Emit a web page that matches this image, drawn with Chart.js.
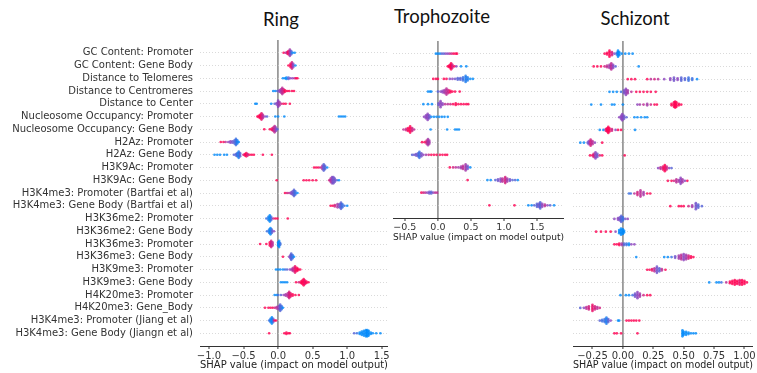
<!DOCTYPE html>
<html>
<head>
<meta charset="utf-8">
<script src="https://cdn.jsdelivr.net/npm/chart.js@4.4.1/dist/chart.umd.min.js"></script>
<style>
    body { margin: 0; background: #fff; width: 757px; height: 373px; overflow: hidden; position: relative; }
    canvas { position: absolute; }
    .title { position: absolute; font-family: Lato, "Open Sans", sans-serif; font-size: 18.5px; color: #111; transform: translateX(-50%); white-space: nowrap; }
</style>
</head>
<body>
<div class="title" style="left:281px; top:8px;">Ring</div>
<div class="title" style="left:442px; top:5px;">Trophozoite</div>
<div class="title" style="left:635px; top:7px;">Schizont</div>
<canvas id="ringChart" width="392" height="373" style="left:0; top:0;"></canvas>
<canvas id="trophChart" width="180" height="245" style="left:388px; top:0;"></canvas>
<canvas id="schizChart" width="192" height="373" style="left:565px; top:0;"></canvas>
<script>
// feature names (Ring panel y labels)
const features = [
    "GC Content: Promoter", "GC Content: Gene Body", "Distance to Telomeres",
    "Distance to Centromeres", "Distance to Center", "Nucleosome Occupancy: Promoter",
    "Nucleosome Occupancy: Gene Body", "H2Az: Promoter", "H2Az: Gene Body",
    "H3K9Ac: Promoter", "H3K9Ac: Gene Body", "H3K4me3: Promoter (Bartfai et al)",
    "H3K4me3: Gene Body (Bartfai et al)", "H3K36me2: Promoter", "H3K36me2: Gene Body",
    "H3K36me3: Promoter", "H3K36me3: Gene Body", "H3K9me3: Promoter", "H3K9me3: Gene Body",
    "H4K20me3: Promoter", "H4K20me3: Gene_Body", "H3K4me3: Promoter (Jiang et al)",
    "H3K4me3: Gene Body (Jiangn et al)"
];

const ringTicks = [-1.0, -0.5, 0.0, 0.5, 1.0, 1.5];
const trophTicks = [-0.5, 0.0, 0.5, 1.0, 1.5];
const schizTicks = [-0.25, 0.0, 0.25, 0.5, 0.75, 1.0];

// each row: [shap value, dots stacked at that value, feature value 0 (low, blue) .. 1 (high, red)]
const ringRows = [
    [[0.08,1,1],[0.11,1,0.7],[0.13,2,0.8],[0.15,3,1],[0.17,5,0.6],[0.19,3,0.3],[0.21,1,0],[0.24,1,0]],
    [[0.15,1,1],[0.18,3,1],[0.2,5,0.8],[0.22,3,0.5],[0.25,1,0]],
    [[0.07,1,0],[0.1,1,0],[0.12,2,0],[0.15,2,0.3],[0.18,1,0.5],[0.21,1,0.5],[0.24,1,0.7],[0.26,1,1],[0.28,1,1]],
    [[-0.07,1,0],[-0.04,1,0],[-0.01,1,0.3],[0.02,2,0.5],[0.04,3,0.6],[0.06,5,0.7],[0.08,3,0.8],[0.1,2,1],[0.13,1,1],[0.16,1,1],[0.2,1,1],[0.23,1,1]],
    [[-0.33,1,0],[-0.31,1,0],[-0.1,1,0],[-0.05,1,0.3],[-0.02,2,0.5],[0,5,0.5],[0.02,3,0.6],[0.05,1,0.8],[0.08,1,1],[0.11,1,1],[0.17,1,1]],
    [[-0.3,1,1],[-0.28,2,1],[-0.26,3,1],[-0.24,5,0.9],[-0.22,3,0.7],[-0.19,1,0.5],[-0.16,1,0.3],[-0.04,1,0],[0,1,0],[0.09,1,0],[0.88,1,0],[0.91,1,0],[0.94,1,0],[0.97,1,0]],
    [[-0.2,1,1],[-0.12,1,1],[-0.09,2,1],[-0.07,3,0.8],[-0.05,5,0.7],[-0.03,3,0.5],[-0.01,1,0.3]],
    [[-0.83,1,1],[-0.79,1,1],[-0.76,1,0.7],[-0.72,1,0.5],[-0.69,2,0.5],[-0.66,2,0.4],[-0.63,3,0.3],[-0.61,5,0.2],[-0.59,3,0.1],[-0.57,1,0]],
    [[-0.92,1,0],[-0.88,1,0],[-0.84,1,0],[-0.78,1,0],[-0.74,1,0],[-0.64,1,0.3],[-0.61,2,0.3],[-0.59,3,0.2],[-0.57,5,0.1],[-0.55,3,0.3],[-0.5,1,0.8],[-0.48,2,1],[-0.46,3,1],[-0.44,2,0.8],[-0.41,1,1],[-0.38,1,1],[-0.35,1,1],[-0.22,1,1],[-0.09,1,1]],
    [[0.52,1,1],[0.55,1,1],[0.58,1,1],[0.61,1,0.8],[0.64,3,0.6],[0.66,5,0.3],[0.68,3,0.3],[0.71,1,0]],
    [[-0.02,1,1],[0.37,1,1],[0.41,1,1],[0.45,1,1],[0.5,1,1],[0.55,1,1],[0.74,1,0.8],[0.76,3,0.7],[0.78,5,0.5],[0.8,5,0.4],[0.82,3,0.4],[0.85,1,0.3],[0.88,1,0]],
    [[0.1,1,1],[0.13,1,0.8],[0.16,1,0.7],[0.19,2,0.5],[0.21,3,0.4],[0.23,5,0.3],[0.25,3,0.2],[0.28,1,0]],
    [[0.76,1,1],[0.79,1,1],[0.82,2,0.8],[0.86,3,0.6],[0.89,3,0.4],[0.91,5,0.3],[0.93,3,0.2],[0.96,1,0.2],[1.0,1,0]],
    [[-0.17,1,0.2],[-0.14,3,0.1],[-0.12,5,0],[-0.1,3,0.2],[-0.07,1,0.7],[-0.04,1,1],[-0.01,1,1],[0.14,1,1]],
    [[-0.16,1,0.2],[-0.13,3,0.1],[-0.11,5,0],[-0.09,3,0.3],[-0.06,1,0.5]],
    [[-0.26,1,1],[-0.17,1,1],[-0.12,3,1],[-0.1,5,0.8],[-0.08,3,0.7],[0,3,0],[0.015,5,0],[0.03,2,0.2]],
    [[0.07,1,1],[0.16,1,0.5],[0.18,3,0.4],[0.19,5,0.3],[0.21,3,0.2],[0.23,1,0]],
    [[-0.03,1,0],[0,1,0],[0.03,1,0],[0.07,1,0],[0.1,1,0.2],[0.13,1,0.3],[0.17,1,0.5],[0.2,2,0.6],[0.22,3,0.7],[0.245,5,0.9],[0.27,3,1],[0.29,2,1],[0.32,1,1]],
    [[0.04,1,0],[0.07,1,0],[0.1,1,0],[0.13,1,0],[0.26,1,1],[0.3,1,0.8],[0.33,2,1],[0.35,3,1],[0.37,5,1],[0.39,3,0.9],[0.41,2,1],[0.44,1,1]],
    [[-0.05,1,0],[-0.02,1,0],[0,1,0.2],[0.04,1,0.3],[0.08,1,0.5],[0.11,2,0.6],[0.14,3,0.7],[0.16,5,0.8],[0.18,3,0.9],[0.21,2,1],[0.25,1,1],[0.3,1,1]],
    [[-0.19,1,1],[-0.14,1,1],[-0.11,1,1],[-0.08,1,1],[-0.05,1,0.8],[-0.02,2,0.7],[0.01,3,0.5],[0.03,5,0.3],[0.05,3,0.2],[0.07,1,0]],
    [[-0.13,1,0.2],[-0.11,3,0.1],[-0.09,5,0],[-0.07,3,0.3],[-0.05,1,1],[-0.03,1,1]],
    [[-0.13,1,1],[0.09,1,1],[0.12,2,1],[0.15,1,1],[0.17,1,1],[1.1,1,0.3],[1.14,1,0.2],[1.18,2,0],[1.21,3,0],[1.24,4,0],[1.27,5,0],[1.29,5,0],[1.31,4,0],[1.34,2,0],[1.37,1,0],[1.42,1,0],[1.48,1,0]]
];

const trophRows = [
    [[-0.03,1,0],[0,1,0],[0.03,1,0],[0.06,1,0.3],[0.09,1,0.3],[0.12,1,0.5],[0.15,1,0.5],[0.18,1,0.7],[0.21,1,0.8],[0.24,1,1],[0.27,1,1],[0.29,1,1]],
    [[0.15,1,1],[0.17,2,1],[0.19,3,1],[0.2,5,1],[0.22,3,0.8],[0.25,1,1],[0.28,1,0.5],[0.35,1,0],[0.43,1,0]],
    [[-0.07,1,1],[-0.03,1,1],[0.0,1,1],[0.09,1,1],[0.13,1,1],[0.18,1,0.5],[0.22,1,0.5],[0.26,1,0.4],[0.3,2,0.3],[0.34,2,0.3],[0.38,3,0.2],[0.42,5,0.1],[0.45,3,0.1],[0.49,1,0],[0.53,1,0]],
    [[-0.15,1,0],[-0.12,1,0],[-0.1,1,0],[0.0,1,0.3],[0.04,1,0.5],[0.07,2,0.5],[0.1,3,0.6],[0.13,5,0.7],[0.16,3,0.8],[0.19,2,1],[0.22,1,1],[0.26,1,1],[0.33,1,1]],
    [[-0.22,1,0],[-0.15,1,0],[-0.09,1,0],[0.01,2,0.4],[0.04,5,0.5],[0.07,2,0.5],[0.11,1,0.7],[0.15,1,0.7],[0.19,1,0.8],[0.23,1,1],[0.27,2,1],[0.31,1,1],[0.35,1,1],[0.39,1,1],[0.43,1,1],[0.46,1,1]],
    [[-0.21,1,0.5],[-0.18,3,0.5],[-0.155,5,0.5],[-0.13,3,0.4],[-0.1,1,0],[-0.06,1,0],[-0.02,1,0],[0.02,1,0],[0.06,1,0],[0.1,1,0],[0.15,1,0]],
    [[-0.52,1,0.7],[-0.48,2,0.8],[-0.45,3,1],[-0.42,5,1],[-0.39,3,0.8],[-0.36,1,0.7],[-0.11,1,0],[0.14,1,0],[0.26,1,0],[0.29,1,0],[0.32,1,0]],
    [[-0.24,1,1],[-0.2,1,1],[-0.17,3,0.8],[-0.15,5,0.6],[-0.13,3,0.6]],
    [[-0.39,1,0.3],[-0.36,1,0.4],[-0.33,2,0.4],[-0.3,3,0.3],[-0.28,5,0.2],[-0.25,3,0.4],[-0.22,1,0.5],[-0.18,1,0.6],[-0.14,1,0.8],[-0.1,1,1],[-0.06,1,1],[-0.02,1,1],[0.03,1,1],[0.07,1,1],[0.11,1,1],[0.14,1,1]],
    [[0.18,1,1],[0.23,1,0.8],[0.27,1,0.7],[0.31,1,0.6],[0.35,2,0.6],[0.38,3,0.7],[0.42,5,0.6],[0.45,3,0.4],[0.49,1,0]],
    [[0.45,1,1],[0.75,1,0],[0.8,1,0],[0.87,1,0.3],[0.91,2,0.4],[0.95,3,0.5],[0.98,3,0.7],[1.02,5,0.8],[1.05,3,0.6],[1.09,2,0.4],[1.13,1,0.3],[1.17,1,0.3],[1.21,1,0]],
    [[-0.25,1,1],[-0.22,1,0.8],[-0.19,1,0.7],[-0.16,1,0.5],[-0.13,2,0.4],[-0.1,2,0.3],[-0.07,1,0.5],[-0.04,1,0.7],[-0.01,1,0.7]],
    [[0.78,1,1],[1.16,1,1],[1.37,1,0],[1.42,1,0],[1.46,1,0.3],[1.5,3,0.3],[1.53,3,0.4],[1.55,5,0.3],[1.58,3,0.5],[1.62,2,0.7],[1.66,1,0.5],[1.7,1,0.3],[1.76,1,0]]
];

const schizRows = [
    [[-0.15,1,1],[-0.13,2,1],[-0.11,5,1],[-0.09,3,0.8],[-0.07,1,0.5],[-0.05,2,0.2],[-0.04,5,0],[-0.03,3,0],[-0.01,1,0],[0.02,1,0],[0.05,1,0],[0.08,1,0]],
    [[-0.24,1,1],[-0.21,1,1],[-0.18,1,1],[-0.15,1,0.8],[-0.13,2,0.7],[-0.11,3,0.6],[-0.095,5,0.7],[-0.08,3,0.5],[-0.06,1,0.3],[0.13,1,0]],
    [[0.04,1,1],[0.07,1,1],[0.1,1,1],[0.2,1,1],[0.23,1,0.7],[0.26,1,0.8],[0.29,1,0.7],[0.34,1,0.5],[0.39,2,0.5],[0.42,3,0.4],[0.45,2,0.5],[0.48,3,0.3],[0.51,2,0.3],[0.54,3,0.2],[0.57,2,0.2],[0.61,1,0]],
    [[-0.11,1,0],[-0.08,1,0],[-0.05,1,0],[-0.015,1,0.2],[0.01,3,0.4],[0.025,5,0.5],[0.04,3,0.6],[0.07,1,0.7],[0.11,1,1],[0.14,1,1],[0.17,1,1],[0.2,1,1],[0.23,1,1],[0.27,1,1]],
    [[-0.26,1,0],[-0.18,1,0],[-0.09,1,0],[-0.07,1,0],[0,1,0],[0.12,1,0.5],[0.14,1,0.6],[0.17,1,0.7],[0.2,2,0.6],[0.23,1,0.8],[0.26,1,1],[0.28,1,1],[0.4,2,1],[0.42,4,1],[0.43,5,1],[0.44,4,1],[0.46,2,1],[0.48,1,1]],
    [[-0.03,1,0.5],[-0.015,3,0.5],[-0.005,5,0.5],[0.01,3,0.4],[0.03,1,0.3],[0.095,1,0],[0.12,1,0],[0.15,1,0],[0.18,1,0],[0.2,1,0]],
    [[-0.19,1,0],[-0.16,1,0],[-0.14,2,0.8],[-0.13,3,1],[-0.12,5,1],[-0.11,3,1],[-0.09,2,0.8],[-0.06,1,0.5],[-0.04,1,1],[-0.015,1,1],[0.1,1,0]],
    [[-0.35,1,0],[-0.32,1,0],[-0.29,1,0.3],[-0.28,3,0.5],[-0.265,5,0.8],[-0.25,3,0.7],[-0.23,1,0.5],[-0.17,1,1]],
    [[-0.27,1,1],[-0.25,1,1],[-0.24,3,0.8],[-0.225,5,0.5],[-0.21,3,0.4],[-0.19,1,0.8],[-0.17,1,1],[0.015,1,1]],
    [[0.29,1,0.5],[0.31,2,0.7],[0.33,3,0.9],[0.345,5,1],[0.36,3,0.8],[0.38,1,0.5],[0.4,1,0.3]],
    [[0.37,1,1],[0.4,1,1],[0.42,1,0.8],[0.44,3,0.7],[0.46,2,0.6],[0.475,5,0.5],[0.49,3,0.6],[0.51,1,0.5],[0.53,1,1]],
    [[0.05,1,0.2],[0.065,1,0.2],[0.095,1,0.7],[0.12,3,0.8],[0.145,5,0.7],[0.17,3,0.6],[0.2,1,1],[0.225,1,1]],
    [[0.39,1,1],[0.46,1,1],[0.48,1,1],[0.5,1,1],[0.54,1,0.8],[0.57,2,0.6],[0.6,5,0.4],[0.62,3,0.3],[0.65,1,0.3]],
    [[-0.07,1,0.5],[-0.04,2,0.5],[-0.025,3,0.4],[-0.013,5,0.3],[0,3,0.2],[0.02,1,0.4],[0.04,1,0.5]],
    [[-0.22,1,1],[-0.18,1,1],[-0.14,1,1],[-0.1,1,1],[-0.06,1,0.5],[-0.03,3,0],[-0.015,5,0],[0,4,0],[0.01,2,0]],
    [[-0.07,1,1],[-0.05,1,1],[-0.03,2,1],[-0.01,2,0.6],[0.01,2,0.3],[0.03,2,0.2],[0.05,2,0],[0.07,1,0.5],[0.095,1,0.5]],
    [[0.11,1,0],[0.34,1,0],[0.37,1,0],[0.4,1,0.2],[0.43,2,0.4],[0.46,3,0.6],[0.48,4,0.7],[0.5,5,0.5],[0.52,4,0.6],[0.54,3,0.8],[0.56,2,1],[0.58,1,1]],
    [[0.2,1,1],[0.22,1,1],[0.24,2,0.9],[0.26,3,0.7],[0.28,5,0.4],[0.3,3,0.3],[0.32,2,0.7],[0.35,1,1]],
    [[0.71,1,0],[0.77,1,0],[0.79,1,0],[0.81,1,0.2],[0.85,1,0.7],[0.88,2,1],[0.9,3,1],[0.92,4,1],[0.94,3,1],[0.96,4,0.9],[0.98,4,1],[1.0,3,1],[1.02,1,1]],
    [[-0.02,1,0],[0.025,1,0],[0.05,1,0],[0.08,1,0.2],[0.1,3,0.4],[0.12,5,0.5],[0.14,3,0.6],[0.17,1,0.8],[0.2,1,1],[0.225,1,1]],
    [[-0.35,1,0.3],[-0.32,1,0.5],[-0.3,2,0.7],[-0.28,3,0.8],[-0.25,5,0.9],[-0.23,3,0.8],[-0.21,2,0.7],[-0.19,1,0.8]],
    [[-0.19,1,0.3],[-0.17,2,0.2],[-0.15,3,0.2],[-0.135,5,0.1],[-0.12,3,0.3],[-0.1,1,0.5],[-0.04,1,0],[-0.03,1,0],[0.03,1,1],[0.05,1,1],[0.07,1,1],[0.09,1,1],[0.11,1,1],[0.135,1,1]],
    [[-0.07,1,1],[-0.05,1,1],[-0.015,1,1],[0.12,1,1],[0.49,5,0],[0.5,3,0],[0.52,3,0],[0.54,2,0],[0.56,1,0],[0.58,1,0],[0.6,1,0]]
];

//////////////////////////////////////////////
// Helpers
//////////////////////////////////////////////
const STACK = 0.12;   // vertical step between stacked dots, in row units
const FONT = '"DejaVu Sans", sans-serif';

// shap red_blue colour map: blue -> purple -> red
function shapColor(c) {
    const lo = [0, 138, 250], mid = [140, 68, 190], hi = [255, 0, 82];
    let a, b, t;
    if (c < 0.5) { a = lo; b = mid; t = c / 0.5; } else { a = mid; b = hi; t = (c - 0.5) / 0.5; }
    const rgb = a.map((v, i) => Math.round(v + (b[i] - v) * t));
    return `rgba(${rgb[0]},${rgb[1]},${rgb[2]},0.8)`;
}

function buildPoints(rows) {
    const pts = [], colors = [];
    rows.forEach((row, i) => {
        row.forEach(([x, n, c]) => {
            for (let k = 0; k < n; k++) {
                pts.push({ x: x, y: i + (k - (n - 1) / 2) * STACK });
                colors.push(shapColor(c));
            }
        });
    });
    return { pts, colors };
}

function fmtTick(v, digits) {
    return v.toFixed(digits).replace('-', '\u2212');
}

//////////////////////////////////////////////
// One beeswarm panel
//////////////////////////////////////////////
function makePanel(id, rows, ticks, cfg) {
    const { pts, colors } = buildPoints(rows);
    const ctx = document.getElementById(id).getContext('2d');
    return new Chart(ctx, {
        type: 'scatter',
        data: {
            datasets: [{
                data: pts,
                pointBackgroundColor: colors,
                pointBorderWidth: 0,
                pointRadius: 1.35
            }]
        },
        options: {
            responsive: false,
            animation: false,
            layout: { padding: { left: 0, top: cfg.top, right: cfg.right, bottom: 0 } },
            plugins: { legend: { display: false }, tooltip: { enabled: false } },
            scales: {
                x: {
                    type: 'linear',
                    min: cfg.xmin,
                    max: cfg.xmax,
                    afterBuildTicks: s => { s.ticks = ticks.map(v => ({ value: v })); },
                    afterFit: s => { s.height = cfg.xHeight; },
                    ticks: {
                        autoSkip: false,
                        callback: v => fmtTick(v, cfg.digits),
                        font: { family: FONT, size: cfg.tickSize },
                        color: '#333',
                        padding: 1,
                        maxRotation: 0
                    },
                    grid: {
                        color: c => (c.tick && c.tick.value === 0) ? '#9a9a9a' : 'rgba(0,0,0,0)',
                        lineWidth: c => (c.tick && c.tick.value === 0) ? 1.8 : 0,
                        tickColor: '#333',
                        tickWidth: 1,
                        tickLength: 3
                    },
                    border: { display: true, color: '#333', width: 1 },
                    title: {
                        display: true,
                        text: 'SHAP value (impact on model output)',
                        font: { family: FONT, size: cfg.titleSize },
                        color: '#222',
                        padding: { top: 0, bottom: cfg.titlePad }
                    }
                },
                y: {
                    type: 'linear',
                    reverse: true,
                    min: -1,
                    max: rows.length,
                    afterBuildTicks: s => { s.ticks = rows.map((r, i) => ({ value: i })); },
                    afterFit: s => { s.width = cfg.yWidth; },
                    ticks: {
                        display: !!cfg.labels,
                        autoSkip: false,
                        callback: v => cfg.labels ? cfg.labels[v] : '',
                        font: { family: FONT, size: 10 },
                        color: '#333',
                        padding: 7
                    },
                    grid: { color: '#d0d0d0', lineWidth: 0.8, drawTicks: false },
                    border: { display: false, dash: [1, 2] }
                }
            }
        }
    });
}

//////////////////////////////////////////////
// Build the three panels
//////////////////////////////////////////////
document.addEventListener('DOMContentLoaded', () => {
    makePanel('ringChart', ringRows, ringTicks, {
        xmin: -1.13, xmax: 1.59, digits: 1, labels: features,
        top: 40, right: 4, yWidth: 200, xHeight: 27,
        tickSize: 10, titleSize: 10, titlePad: 2
    });
    makePanel('trophChart', trophRows, trophTicks, {
        xmin: -0.68, xmax: 1.91, digits: 1, labels: null,
        top: 41, right: 4, yWidth: 5, xHeight: 27,
        tickSize: 9.5, titleSize: 9.5, titlePad: 2
    });
    makePanel('schizChart', schizRows, schizTicks, {
        xmin: -0.41, xmax: 1.07, digits: 2, labels: null,
        top: 41, right: 2, yWidth: 8, xHeight: 27,
        tickSize: 10, titleSize: 10, titlePad: 2
    });
});
</script>
</body>
</html>
